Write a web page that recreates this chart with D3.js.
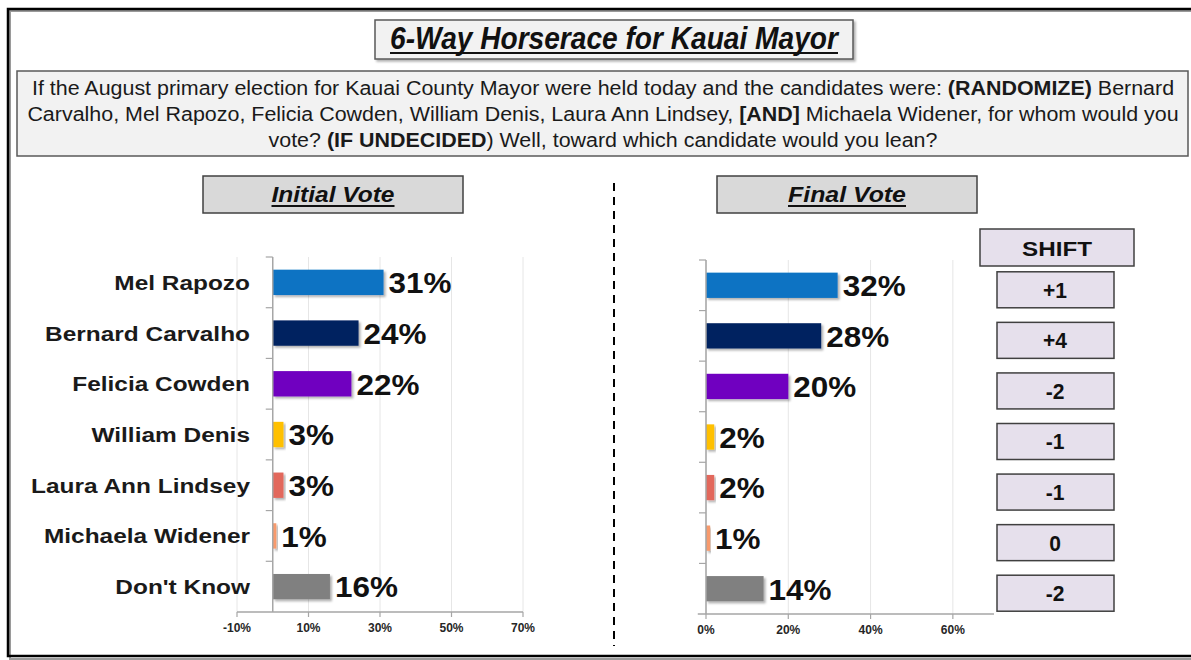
<!DOCTYPE html>
<html>
<head>
<meta charset="utf-8">
<script src="https://cdn.jsdelivr.net/npm/d3@7"></script>
<style>
  html, body { margin: 0; padding: 0; background: #fff; }
  svg { display: block; font-family: Arial, "Liberation Sans", Helvetica, sans-serif; }
</style>
</head>
<body>
<div id="chart"></div>
<script>
// ---- Data ----
const candidates = ["Mel Rapozo", "Bernard Carvalho", "Felicia Cowden", "William Denis",
  "Laura Ann Lindsey", "Michaela Widener", "Don't Know"];
const initialVote = [31, 24, 22, 3, 3, 1, 16];
const finalVote = [32, 28, 20, 2, 2, 1, 14];
const barColors = ["#0f73c3", "#002060", "#7000c0", "#ffc000", "#e2685c", "#f89a6c", "#808080"];
const leftTicks = [-10, 10, 30, 50, 70];
const rightTicks = [0, 20, 40, 60];

const titleText = "6-Way Horserace for Kauai Mayor";
const questionLines = [
  [["If the August primary election for Kauai County Mayor were held today and the candidates were: ", false], ["(RANDOMIZE)", true], [" Bernard", false]],
  [["Carvalho, Mel Rapozo, Felicia Cowden, William Denis, Laura Ann Lindsey, ", false], ["[AND]", true], [" Michaela Widener, for whom would you", false]],
  [["vote? ", false], ["(IF UNDECIDED", true], [") Well, toward which candidate would you lean?", false]]
];

const W = 1191, H = 660;
const NARROW = "'Liberation Sans Narrow', 'Arial Narrow', Arial, 'Liberation Sans', sans-serif";

const svg = d3.select("#chart").append("svg").attr("width", W).attr("height", H);

const defs = svg.append("defs");
const shadow = defs.append("filter").attr("id", "shadow")
  .attr("x", "-10%").attr("y", "-10%").attr("width", "130%").attr("height", "140%");
shadow.append("feDropShadow").attr("dx", 2).attr("dy", 2).attr("stdDeviation", 1.2)
  .attr("flood-color", "#000").attr("flood-opacity", 0.3);

// horizontal factor that makes `sample` (bold, given size) measure `target` px
function scaleFor(sample, size, target) {
  const t = svg.append("text").style("font-size", size + "px").style("font-weight", "bold").text(sample);
  const s = target / t.node().getComputedTextLength();
  t.remove();
  return s;
}
function fitWidth(node, target, ax) {
  const s = target / node.getComputedTextLength();
  d3.select(node).attr("transform", `translate(${ax},0) scale(${s},1) translate(${-ax},0)`);
}
function stretch(sel, s, axFn) {
  sel.attr("transform", function (d, i) {
    const ax = axFn(d, i);
    return `translate(${ax},0) scale(${s},1) translate(${-ax},0)`;
  });
}

const catScale = scaleFor("Bernard Carvalho", 21, 205);
const valScale = scaleFor("31%", 30, 63);
const shiftScale = scaleFor("+1", 22, 24);

// ---- Outer frame ----
svg.append("rect").attr("x", 10).attr("y", 11).attr("width", 1190).attr("height", 648)
  .attr("fill", "none").attr("stroke", "#9a9a9a").attr("stroke-width", 2);
svg.append("rect").attr("x", 8).attr("y", 9).attr("width", 1190).attr("height", 647)
  .attr("fill", "none").attr("stroke", "#000").attr("stroke-width", 2.5);

// ---- Title ----
svg.append("rect").attr("x", 375).attr("y", 20).attr("width", 478).attr("height", 39)
  .attr("fill", "#f2f2f2").attr("stroke", "#595959").attr("stroke-width", 1.5)
  .attr("filter", "url(#shadow)");
const title = svg.append("text").attr("x", 614).attr("y", 49)
  .attr("text-anchor", "middle")
  .style("font-family", NARROW).style("font-size", "31px")
  .style("font-weight", "bold").style("font-style", "italic")
  .attr("fill", "#111").text(titleText);
fitWidth(title.node(), 448, 614);
svg.append("line").attr("x1", 390).attr("x2", 838).attr("y1", 53).attr("y2", 53)
  .attr("stroke", "#111").attr("stroke-width", 2);

// ---- Question box ----
svg.append("rect").attr("x", 17).attr("y", 71).attr("width", 1171).attr("height", 85)
  .attr("fill", "#f2f2f2").attr("stroke", "#595959").attr("stroke-width", 1.5);
const qTexts = questionLines.map((parts, i) => {
  const t = svg.append("text").attr("x", 603).attr("y", 95 + i * 26)
    .attr("text-anchor", "middle")
    .style("font-family", NARROW).style("font-size", "20px").attr("fill", "#1a1a1a");
  parts.forEach(([s, b]) => t.append("tspan").style("font-weight", b ? "bold" : "normal").text(s));
  return t;
});
const qScale = 1143 / qTexts[0].node().getComputedTextLength();
qTexts.forEach(t => t.attr("transform", `translate(603,0) scale(${qScale},1) translate(-603,0)`));

// ---- Panel headers ----
function header(x, label, textW) {
  svg.append("rect").attr("x", x).attr("y", 176).attr("width", 260).attr("height", 37)
    .attr("fill", "#d9d9d9").attr("stroke", "#404040").attr("stroke-width", 1.5);
  const t = svg.append("text").attr("x", x + 130).attr("y", 202)
    .attr("text-anchor", "middle")
    .style("font-size", "22px").style("font-weight", "bold").style("font-style", "italic")
    .attr("fill", "#111").text(label);
  fitWidth(t.node(), textW, x + 130);
  svg.append("line").attr("x1", x + 130 - textW / 2).attr("x2", x + 130 + textW / 2)
    .attr("y1", 206).attr("y2", 206).attr("stroke", "#111").attr("stroke-width", 2);
}
header(203, "Initial Vote", 123);
header(717, "Final Vote", 118);

// ---- Divider ----
svg.append("line").attr("x1", 614).attr("x2", 614).attr("y1", 183).attr("y2", 646)
  .attr("stroke", "#000").attr("stroke-width", 2).attr("stroke-dasharray", "8,6");

// ---- Bar panel ----
function panel(values, x, yTop, yBottom, ticks, axisStart, showLabels) {
  const y = d3.scaleBand().domain(candidates).range([yTop, yBottom])
    .paddingInner(0.5).paddingOuter(0.25);
  const g = svg.append("g");
  const x0 = x(0);

  // gridlines
  g.selectAll("line.grid").data(ticks).join("line").attr("class", "grid")
    .attr("x1", d => x(d)).attr("x2", d => x(d)).attr("y1", yTop).attr("y2", yBottom)
    .attr("stroke", "#e6e6e6").attr("stroke-width", 1);

  // bars
  g.selectAll("rect.bar").data(values).join("rect").attr("class", "bar")
    .attr("x", x0).attr("y", (d, i) => y(candidates[i]))
    .attr("width", d => x(d) - x0).attr("height", y.bandwidth())
    .attr("fill", (d, i) => barColors[i]).attr("filter", "url(#shadow)");

  // value labels
  const vl = g.selectAll("text.val").data(values).join("text").attr("class", "val")
    .attr("x", d => x(d) + 5).attr("y", (d, i) => y(candidates[i]) + y.bandwidth() / 2)
    .attr("dy", "0.36em")
    .style("font-size", "30px").style("font-weight", "bold").attr("fill", "#111")
    .text(d => d + "%");
  stretch(vl, valScale, d => x(d) + 5);

  // vertical axis with category separator ticks
  g.append("line").attr("x1", x0).attr("x2", x0).attr("y1", yTop).attr("y2", yBottom)
    .attr("stroke", "#a6a6a6").attr("stroke-width", 1.5);
  const seps = candidates.map(c => y(c) - (y.step() - y.bandwidth()) / 2);
  g.selectAll("line.sep").data(seps).join("line").attr("class", "sep")
    .attr("x1", x0 - 7).attr("x2", x0).attr("y1", d => d).attr("y2", d => d)
    .attr("stroke", "#a6a6a6").attr("stroke-width", 1.2);

  // horizontal axis
  const [, xEnd] = x.range();
  g.append("line").attr("x1", axisStart).attr("x2", xEnd).attr("y1", yBottom).attr("y2", yBottom)
    .attr("stroke", "#a6a6a6").attr("stroke-width", 1.5);
  g.selectAll("line.tk").data(ticks).join("line").attr("class", "tk")
    .attr("x1", d => x(d)).attr("x2", d => x(d)).attr("y1", yBottom).attr("y2", yBottom + 5)
    .attr("stroke", "#a6a6a6").attr("stroke-width", 1.2);
  g.selectAll("text.tl").data(ticks).join("text").attr("class", "tl")
    .attr("x", d => x(d)).attr("y", yBottom + 20).attr("text-anchor", "middle")
    .style("font-size", "12px").style("font-weight", "bold").attr("fill", "#262626")
    .text(d => d + "%");

  if (showLabels) {
    const cl = g.selectAll("text.cat").data(candidates).join("text").attr("class", "cat")
      .attr("x", 250).attr("y", d => y(d) + y.bandwidth() / 2).attr("dy", "0.36em")
      .attr("text-anchor", "end")
      .style("font-size", "21px").style("font-weight", "bold").attr("fill", "#1a1a1a")
      .text(d => d);
    stretch(cl, catScale, () => 250);
  }
  return y;
}

const xLeft = d3.scaleLinear().domain([-10, 70]).range([237, 523]);
panel(initialVote, xLeft, 257, 612, leftTicks, xLeft(-10), true);

const xRight = d3.scaleLinear().domain([0, 70]).range([706, 994]);
const yRight = panel(finalVote, xRight, 260, 614, rightTicks, xRight(-2), false);

// ---- Shift column ----
const shifts = finalVote.map((v, i) => v - initialVote[i]);
svg.append("rect").attr("x", 980).attr("y", 229).attr("width", 154).attr("height", 37)
  .attr("fill", "#e6e0ec").attr("stroke", "#404040").attr("stroke-width", 1.5);
const shiftHead = svg.append("text").attr("x", 1057).attr("y", 256).attr("text-anchor", "middle")
  .style("font-size", "21px").style("font-weight", "bold")
  .attr("fill", "#111").text("SHIFT");
fitWidth(shiftHead.node(), 70, 1057);

const sg = svg.append("g");
sg.selectAll("rect").data(shifts).join("rect")
  .attr("x", 997).attr("width", 117).attr("height", 36)
  .attr("y", (d, i) => yRight(candidates[i]) + yRight.bandwidth() / 2 + 4.5 - 18)
  .attr("fill", "#e6e0ec").attr("stroke", "#404040").attr("stroke-width", 1.5);
const st = sg.selectAll("text").data(shifts).join("text")
  .attr("x", 1055).attr("y", (d, i) => yRight(candidates[i]) + yRight.bandwidth() / 2 + 4.5)
  .attr("dy", "0.36em").attr("text-anchor", "middle")
  .style("font-size", "22px").style("font-weight", "bold").attr("fill", "#111")
  .text(d => d > 0 ? "+" + d : String(d));
stretch(st, shiftScale, () => 1055);
</script>
</body>
</html>
